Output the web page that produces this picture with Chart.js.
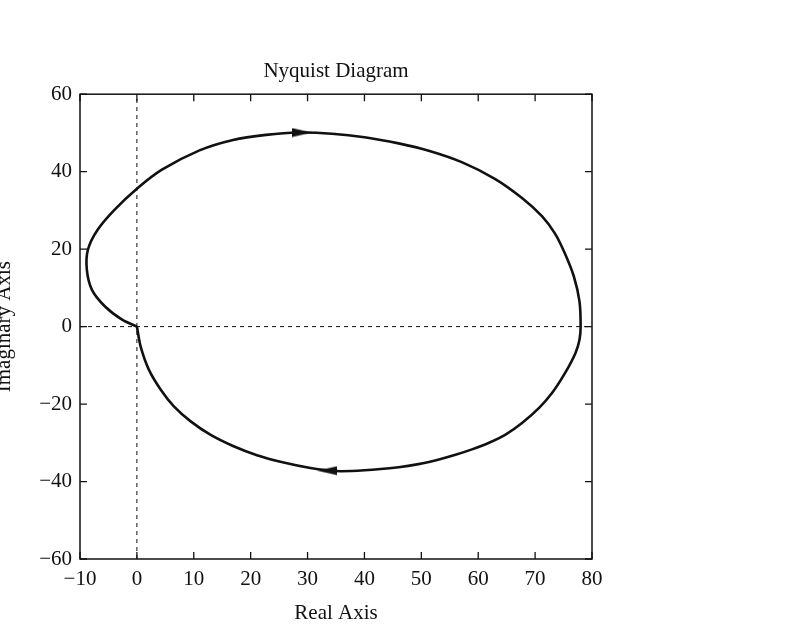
<!DOCTYPE html>
<html>
<head>
<meta charset="utf-8">
<script src="https://cdn.jsdelivr.net/npm/chart.js@4/dist/chart.umd.min.js"></script>
<style>
  html, body { margin: 0; padding: 0; background: #fff; overflow: hidden; width: 800px; height: 640px; }
  #c { position: absolute; left: -8px; top: 0; }
</style>
</head>
<body>
<canvas id="c" width="808" height="640"></canvas>
<script>
// ---- Data ----
const chartTitle = 'Nyquist Diagram';
const xAxisTitle = 'Real Axis';
const yAxisTitle = 'Imaginary Axis';

const xTicks = [-10, 0, 10, 20, 30, 40, 50, 60, 70, 80];
const yTicks = [-60, -40, -20, 0, 20, 40, 60];
const xTickLabels = ['−10', '0', '10', '20', '30', '40', '50', '60', '70', '80'];
const yTickLabels = ['−60', '−40', '−20', '0', '20', '40', '60'];

// Nyquist curve (Real, Imag), traced from origin around the loop back to origin
const realPart = [0, -2.6, -5.6, -7.9, -8.8, -8.6, -6.9, -3.9, 0, 4.4, 11.0, 16.9, 22.7, 28.5, 34.3, 40.0, 46.0, 51.3, 57.2, 63.0, 67.7, 71.2, 73.5, 75.2, 76.8, 77.8, 78.0, 77.8, 77.1, 75.3, 73.0, 70.7, 67.7, 64.8, 61.9, 58.9, 56.0, 53.1, 49.5, 46.0, 40.0, 35.0, 30.5, 25.8, 21.1, 17.0, 12.9, 9.4, 6.5, 4.2, 2.1, 0.65, 0];
const imagPart = [0, 1.8, 5.2, 9.5, 14.7, 19.9, 25.0, 30.2, 35.6, 40.5, 45.5, 48.2, 49.5, 50.1, 49.8, 48.9, 47.3, 45.4, 42.4, 38.1, 33.2, 28.5, 24.0, 19.0, 13.0, 6.5, 0, -3.4, -6.8, -11.9, -17.1, -21.0, -24.9, -27.9, -30.0, -31.7, -33.1, -34.3, -35.5, -36.3, -37.1, -37.3, -36.5, -35.1, -33.2, -30.9, -27.9, -24.4, -20.6, -16.3, -11.1, -5.1, 0];

// Direction arrows: position and direction (0 = pointing right, 180 = pointing left)
const arrowReal = [29.0, 33.5];
const arrowImag = [50.1, -37.2];
const arrowDir = [0, 180];

// Dashed reference axes through the origin
const xRange = [-10, 80];
const yRange = [-60, 60];

// ---- Build chart ----
const curve = realPart.map((r, i) => ({ x: r, y: imagPart[i] }));
const arrows = arrowReal.map((r, i) => ({ x: r, y: arrowImag[i] }));

const arrowImg = document.createElement('canvas');
arrowImg.width = 20; arrowImg.height = 10;
(function () {
  const g = arrowImg.getContext('2d');
  g.fillStyle = '#111';
  g.beginPath();
  g.moveTo(20, 5); g.lineTo(0, 0.5); g.lineTo(0, 9.5); g.closePath();
  g.fill();
})();

const FONT = 'Liberation Serif, Times New Roman, serif';

const frameTicks = {
  id: 'frameTicks',
  afterDatasetsDraw(chart) {
    const { ctx, chartArea: a, scales } = chart;
    const len = 7;
    ctx.save();
    ctx.strokeStyle = '#111';
    ctx.lineWidth = 1.5;
    ctx.strokeRect(a.left, a.top, a.right - a.left, a.bottom - a.top);
    ctx.lineWidth = 1.3;
    ctx.beginPath();
    scales.x.ticks.forEach(t => {
      const px = scales.x.getPixelForValue(t.value);
      ctx.moveTo(px, a.bottom); ctx.lineTo(px, a.bottom - len);
      ctx.moveTo(px, a.top); ctx.lineTo(px, a.top + len);
    });
    scales.y.ticks.forEach(t => {
      const py = scales.y.getPixelForValue(t.value);
      ctx.moveTo(a.left, py); ctx.lineTo(a.left + len, py);
      ctx.moveTo(a.right, py); ctx.lineTo(a.right - len, py);
    });
    ctx.stroke();
    ctx.restore();
  }
};

new Chart(document.getElementById('c'), {
  type: 'scatter',
  data: {
    datasets: [
      {
        data: curve, showLine: true, borderColor: '#111', borderWidth: 2.6,
        pointRadius: 0, tension: 0.3, fill: false, order: 1
      },
      {
        data: arrows, showLine: false, pointStyle: arrowImg,
        rotation: arrowDir, pointRadius: 8, order: 0
      },
      {
        data: [{ x: 0, y: yRange[0] }, { x: 0, y: yRange[1] }], showLine: true,
        borderColor: '#111', borderWidth: 1, borderDash: [4, 4], pointRadius: 0, order: 2
      },
      {
        data: [{ x: xRange[0], y: 0 }, { x: xRange[1], y: 0 }], showLine: true,
        borderColor: '#111', borderWidth: 1, borderDash: [4, 4], pointRadius: 0, order: 2
      }
    ]
  },
  options: {
    responsive: false,
    animation: false,
    events: [],
    layout: { padding: { left: 0, right: 208, top: 0, bottom: 0 } },
    plugins: {
      legend: { display: false },
      tooltip: { enabled: false },
      title: {
        display: true, text: chartTitle, fullSize: false, color: '#111',
        font: { family: FONT, size: 21, weight: 'normal' },
        padding: { top: 59, bottom: 10 }
      }
    },
    scales: {
      x: {
        type: 'linear', min: xRange[0], max: xRange[1],
        afterFit(s) { s.height = 81; },
        afterBuildTicks(s) { s.ticks = xTicks.map(v => ({ value: v })); },
        grid: { display: false, drawTicks: false },
        border: { display: false },
        ticks: {
          padding: 8, color: '#111', maxRotation: 0, autoSkip: false,
          font: { family: FONT, size: 21 },
          callback: (v) => xTickLabels[xTicks.indexOf(v)]
        },
        title: {
          display: true, text: xAxisTitle, color: '#111',
          font: { family: FONT, size: 21 },
          padding: { top: 0, bottom: 14 }
        }
      },
      y: {
        type: 'linear', min: yRange[0], max: yRange[1],
        afterFit(s) { s.width = 88; },
        afterBuildTicks(s) { s.ticks = yTicks.map(v => ({ value: v })); },
        grid: { display: false, drawTicks: false },
        border: { display: false },
        ticks: {
          padding: 8, color: '#111', autoSkip: false,
          font: { family: FONT, size: 21 },
          callback: (v) => yTickLabels[yTicks.indexOf(v)]
        },
        title: {
          display: true, text: yAxisTitle, color: '#111',
          font: { family: FONT, size: 21 },
          padding: { top: 0, bottom: 0 }
        }
      }
    }
  },
  plugins: [frameTicks]
});
</script>
</body>
</html>
